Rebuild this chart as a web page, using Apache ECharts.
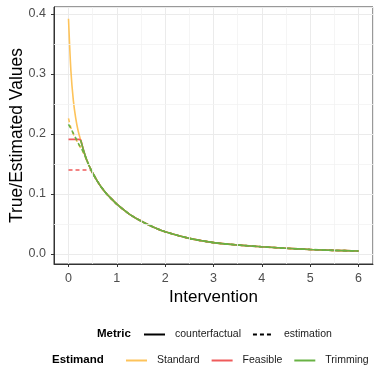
<!DOCTYPE html>
<html>
<head>
<meta charset="utf-8">
<script src="https://cdn.jsdelivr.net/npm/echarts@6/dist/echarts.min.js"></script>
<style>
  html, body { margin: 0; padding: 0; background: #fff; }
  #chart { width: 381px; height: 381px; }
</style>
</head>
<body>
<div id="chart"></div>
<script>
// --- data ---
const xs = [0, 0.05, 0.1, 0.15, 0.2, 0.25, 0.3, 0.35, 0.4, 0.45, 0.5, 0.6, 0.7, 0.8, 0.9, 1,
            1.25, 1.5, 1.75, 2, 2.5, 3, 3.5, 4, 4.5, 5, 5.5, 6];

const standardTrue = [0.392, 0.305, 0.256, 0.226, 0.205, 0.19, 0.176, 0.163, 0.152, 0.143, 0.135,
  0.121, 0.109, 0.099, 0.091, 0.083, 0.067, 0.055, 0.045, 0.037, 0.026, 0.019, 0.015, 0.012, 0.0095, 0.0075, 0.006, 0.005];
const standardEst = [0.226, 0.21, 0.2, 0.192, 0.184, 0.177, 0.17, 0.161, 0.151, 0.143, 0.135,
  0.121, 0.109, 0.099, 0.091, 0.083, 0.067, 0.055, 0.045, 0.037, 0.026, 0.019, 0.015, 0.012, 0.0095, 0.0075, 0.006, 0.005];
const feasibleTrue = [0.191, 0.191, 0.191, 0.191, 0.191, 0.19, 0.176, 0.163, 0.152, 0.143, 0.135,
  0.121, 0.109, 0.099, 0.091, 0.083, 0.067, 0.055, 0.045, 0.037, 0.026, 0.019, 0.015, 0.012, 0.0095, 0.0075, 0.006, 0.005];
const feasibleEst = [0.14, 0.14, 0.14, 0.14, 0.14, 0.14, 0.14, 0.14, 0.14, 0.14, 0.135,
  0.121, 0.109, 0.099, 0.091, 0.083, 0.067, 0.055, 0.045, 0.037, 0.026, 0.019, 0.015, 0.012, 0.0095, 0.0075, 0.006, 0.005];
const trimmingTrue = [null, null, null, null, null, 0.19, 0.176, 0.163, 0.152, 0.143, 0.135,
  0.121, 0.109, 0.099, 0.091, 0.083, 0.067, 0.055, 0.045, 0.037, 0.026, 0.019, 0.015, 0.012, 0.0095, 0.0075, 0.006, 0.005];
const trimmingEst = [0.216, 0.209, 0.201, 0.193, 0.185, 0.178, 0.171, 0.162, 0.152, 0.143, 0.135,
  0.121, 0.109, 0.099, 0.091, 0.083, 0.067, 0.055, 0.045, 0.037, 0.026, 0.019, 0.015, 0.012, 0.0095, 0.0075, 0.006, 0.005];

const xTicks = [0, 1, 2, 3, 4, 5, 6];
const yTicks = [0, 0.1, 0.2, 0.3, 0.4];
const xMinor = [0.5, 1.5, 2.5, 3.5, 4.5, 5.5];
const yMinor = [0.05, 0.15, 0.25, 0.35];

const estimands = ['Standard', 'Feasible', 'Trimming'];
const metrics = ['counterfactual', 'estimation'];

const colors = { Standard: '#FDC35A', Feasible: '#EF5B5B', Trimming: '#69B244' };
const FONT = 'Liberation Sans';

function pairs(vals) {
  const out = [];
  xs.forEach((x, i) => { if (vals[i] != null) out.push([x, vals[i]]); });
  return out;
}

function lineSeries(name, vals, dashed) {
  return {
    name: name,
    type: 'line',
    data: pairs(vals),
    symbol: 'none',
    smooth: 0.3,
    z: 3,
    color: colors[name],
    lineStyle: { width: 1.6, color: colors[name], type: dashed ? [4, 3] : 'solid' },
    emphasis: { disabled: true }
  };
}

const chart = echarts.init(document.getElementById('chart'));

const legendBase = {
  padding: 0,
  itemWidth: 21, itemHeight: 12, itemGap: 11,
  itemStyle: { opacity: 0 },
  textStyle: { fontFamily: FONT, fontSize: 10.5, color: '#1A1A1A', padding: [0, 0, 0, 5] },
  selectedMode: false
};

const option = {
  animation: false,
  grid: {
    left: 54, right: 8, top: 7, bottom: 117,
    outerBoundsMode: 'none', containLabel: false,
    show: true, borderColor: '#333', borderWidth: 1
  },
  xAxis: {
    type: 'value',
    min: -0.3,
    max: 6.3,
    name: 'Intervention',
    nameLocation: 'middle',
    nameGap: 25,
    nameMoveOverlap: false,
    nameTextStyle: { fontFamily: FONT, fontSize: 17, color: '#000' },
    axisLine: { show: true, onZero: false, lineStyle: { color: '#333' } },
    axisTick: { show: true, length: 3, lineStyle: { color: '#333' } },
    axisLabel: {
      fontFamily: FONT, fontSize: 12.5, color: '#4D4D4D', margin: 8,
      showMinLabel: false, showMaxLabel: false,
      formatter: v => xTicks.includes(v) ? String(v) : ''
    },
    splitLine: { show: true, lineStyle: { color: '#EBEBEB', width: 1 } }
  },
  yAxis: {
    type: 'value',
    min: -0.0167,
    max: 0.4117,
    name: 'True/Estimated Values',
    nameLocation: 'middle',
    nameGap: 28,
    nameMoveOverlap: false,
    nameTextStyle: { fontFamily: FONT, fontSize: 17.5, color: '#000' },
    axisLine: { show: true, onZero: false, lineStyle: { color: '#333' } },
    axisTick: { show: true, length: 3, lineStyle: { color: '#333' } },
    axisLabel: {
      fontFamily: FONT, fontSize: 12.5, color: '#4D4D4D', margin: 8,
      showMinLabel: false, showMaxLabel: false,
      formatter: v => yTicks.some(t => Math.abs(t - v) < 1e-9) ? v.toFixed(1) : ''
    },
    splitLine: { show: true, lineStyle: { color: '#EBEBEB', width: 1 } }
  },
  legend: [
    Object.assign({}, legendBase, { data: metrics, left: 143, top: 329 }),
    Object.assign({}, legendBase, { data: estimands, left: 125, top: 355 })
  ],
  graphic: [
    { type: 'text', left: 97, top: 328, style: { text: 'Metric', fontFamily: FONT, fontSize: 11.5, fontWeight: 'bold', fill: '#000' } },
    { type: 'text', left: 52, top: 354, style: { text: 'Estimand', fontFamily: FONT, fontSize: 11.5, fontWeight: 'bold', fill: '#000' } }
  ],
  series: [
    // minor grid lines
    {
      type: 'line', data: [], silent: true, z: 1,
      markLine: {
        silent: true, symbol: 'none', label: { show: false }, animation: false,
        lineStyle: { color: '#F2F2F2', width: 0.8, type: 'solid' },
        data: xMinor.map(v => ({ xAxis: v })).concat(yMinor.map(v => ({ yAxis: v })))
      }
    },
    // legend-only series for Metric
    { name: 'counterfactual', type: 'line', data: [], symbol: 'none', color: '#000', lineStyle: { color: '#000', width: 1.6, type: 'solid' } },
    { name: 'estimation', type: 'line', data: [], symbol: 'none', color: '#000', lineStyle: { color: '#000', width: 1.6, type: [4, 3] } },
    lineSeries('Standard', standardTrue, false),
    lineSeries('Standard', standardEst, true),
    lineSeries('Feasible', feasibleTrue, false),
    lineSeries('Feasible', feasibleEst, true),
    lineSeries('Trimming', trimmingTrue, false),
    lineSeries('Trimming', trimmingEst, true)
  ]
};

chart.setOption(option);
</script>
</body>
</html>
